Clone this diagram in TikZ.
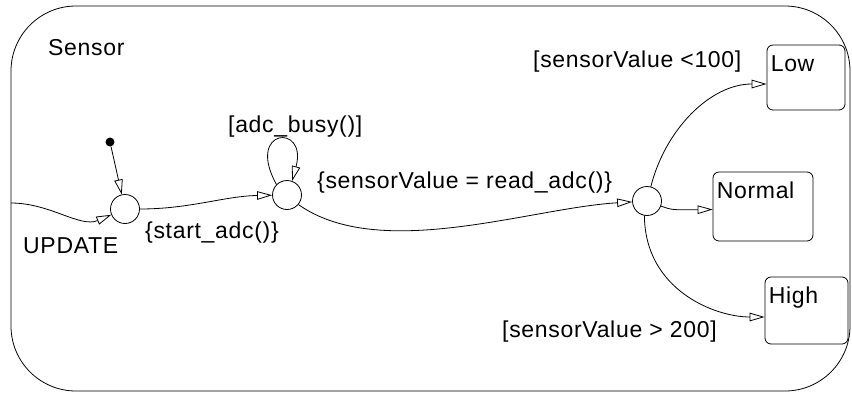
\documentclass[tikz,border=0pt]{standalone}
\usepackage{fontspec}
\setmainfont[LetterSpace=3]{Liberation Sans}
\usetikzlibrary{arrows.meta}

\begin{document}
\begin{tikzpicture}[x=1pt, y=-1pt,
    % Define a style for all texts
    every node/.style={font=\fontsize{23}{27}\selectfont},
    % Define a style for the connective junctions
    junction/.style={circle, draw=black, line width=0.8pt, inner sep=0pt, minimum size=29pt},
    % Define a style for the default transition dot
    initdot/.style={circle, fill=black, inner sep=0pt, minimum size=9pt},
    % Define a style for the states
    state/.style={rectangle, draw=black, line width=0.8pt, rounded corners=6pt, inner sep=0pt},
    % Define a style for the transitions and their labels
    trans/.style={draw=black, line width=0.8pt, -{Triangle[open, length=15pt, width=8.5pt]}},
    txt/.style={anchor=base west, inner sep=0pt}
]

    % Fix the page size to the reference
    \useasboundingbox (0,0) rectangle (852,392);

    % The chart itself
    \draw[line width=0.8pt, rounded corners=65pt] (11,6) rectangle (850,391);
    \node[txt] (title) at (48,55) {Sensor};

    % Place the states with a foreach loop: name/text/x/y/width/height
    \foreach \name/\txt/\cx/\cy/\w/\h in {low/Low/806/77.5/78/65, normal/Normal/763/206.5/100/69, high/High/806.5/310.5/83/67} {
        \node[state, minimum width=\w pt, minimum height=\h pt] (\name) at (\cx,\cy) {};
        \node[txt] (\name-label) at ([xshift=4pt, yshift=-27pt]\name.north west) {\txt};
    }

    % Junctions and the default transition
    \node[initdot] (init) at (110,142) {};
    \node[junction] (j1) at (125,209) {};
    \node[junction] (j2) at (287,195) {};
    \node[junction] (j3) at (647,201) {};
    \coordinate (update) at (11,203);

    % Transitions
    \draw[trans] (init) -- (j1);
    \draw[trans] (update) .. controls (50,203) and (80,228) .. (j1);
    \draw[trans] (j1.east) .. controls (190,209) and (225,196) .. (j2);
    \draw[trans] (j2.135) .. controls (245,128) and (308,123) .. (j2.70);
    \draw[trans] (j2.-40) .. controls (380,262) and (530,208) .. (j3);
    \draw[trans] (j3.75) .. controls (665,130) and (710,84) .. ([yshift=-6.5pt]low.west);
    \draw[trans] (j3.-20) .. controls (672,210) .. ([yshift=-3pt]normal.west);
    \draw[trans] (j3.-100) .. controls (645,290) and (715,317) .. ([yshift=-6.5pt]high.west);

    % Transition labels
    \node[txt] (lupdate) at (23,253) {UPDATE};
    \node[txt] (lstart) at (145,238) {\{start\_adc()\}};
    \node[txt] (lbusy) at (228,132) {[adc\_busy()]};
    \node[txt] (lread) at (317,188) {\{sensorValue = read\_adc()\}};
    \node[txt] (llow) at (533,67) {[sensorValue <100]};
    \node[txt] (lhigh) at (502,337) {[sensorValue > 200]};

\end{tikzpicture}
\end{document}
